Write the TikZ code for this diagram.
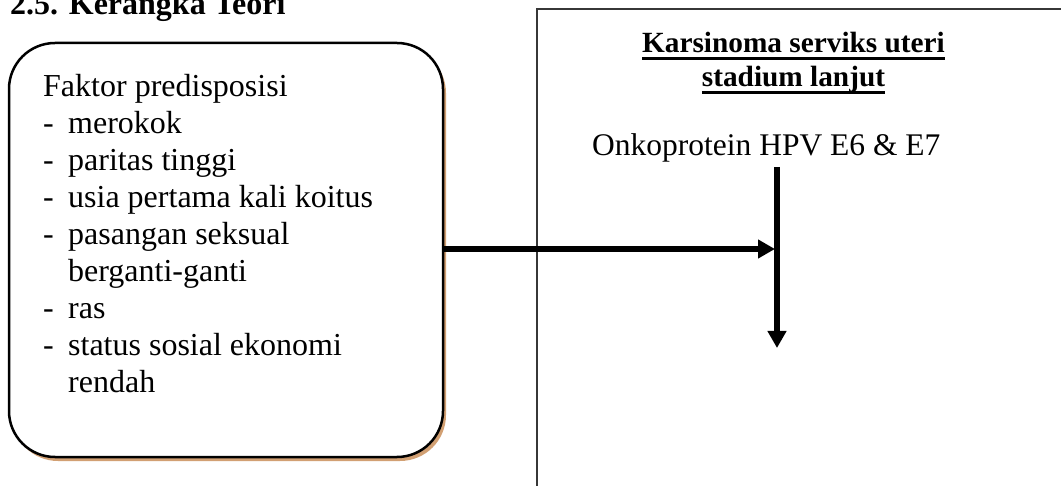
\documentclass[tikz,border=0pt]{standalone}
\usepackage{fontspec}
\setmainfont{Liberation Serif}
\usetikzlibrary{arrows.meta,shadows}
\definecolor{shadowtan}{RGB}{210,160,115}
\definecolor{framegray}{RGB}{55,55,55}
\newcommand{\undl}[1]{\setbox0\hbox{#1}\rlap{\rule[-7pt]{\wd0}{3pt}}\box0}
\tikzset{
  bigtext/.style={inner sep=0pt,font=\fontsize{32}{37}\selectfont},
  headtext/.style={inner sep=0pt,font=\fontsize{29.3}{34}\selectfont\bfseries},
  flow/.style={line width=6pt,-{Triangle[length=17pt,width=18pt]}}
}
\begin{document}
\begin{tikzpicture}[x=1pt,y=1pt]
\path[use as bounding box,clip] (0,0) rectangle (1061,-486);
\node (judul) at (10,-15)[bigtext,anchor=base west]{\bfseries 2.5. Kerangka Teori};
% kotak faktor predisposisi
\node (faktor) at (9,-43)[anchor=north west,outer sep=0pt,draw,line width=2.5pt,
  rounded corners=46pt,minimum width=434pt,minimum height=414pt,fill=white,
  drop shadow={shadow xshift=3pt,shadow yshift=-4pt,fill=shadowtan,opacity=1}]{};
\node (faktortext) at (43,-70)[bigtext,anchor=north west]{%
  \begin{tabular}{@{}p{25pt}@{}l@{}}
  \multicolumn{2}{@{}l@{}}{Faktor predisposisi}\\
  - & merokok\\
  - & paritas tinggi\\
  - & usia pertama kali koitus\\
  - & pasangan seksual\\
    & berganti-ganti\\
  - & ras\\
  - & status sosial ekonomi\\
    & rendah
  \end{tabular}};
% kotak karsinoma
\draw[framegray,line width=2pt] (537,-500) -- (537,-9.5) -- (1080,-9.5);
\node (judulA) at (793.5,-53)[headtext,anchor=base]{\undl{Karsinoma serviks uteri}};
\node (judulB) at (793.5,-87)[headtext,anchor=base]{\undl{stadium lanjut}};
\node (onko) at (592,-156)[bigtext,font=\fontsize{31.5}{37}\selectfont,anchor=base west]{Onkoprotein HPV E6 \& E7};
\coordinate (atas) at (777,-167);
\coordinate (bawah) at (777,-348);
\coordinate (temu) at (775,-249);
\draw[flow] (atas) -- (bawah);
\draw[flow] (faktor.east |- temu) -- (temu);
\end{tikzpicture}
\end{document}
